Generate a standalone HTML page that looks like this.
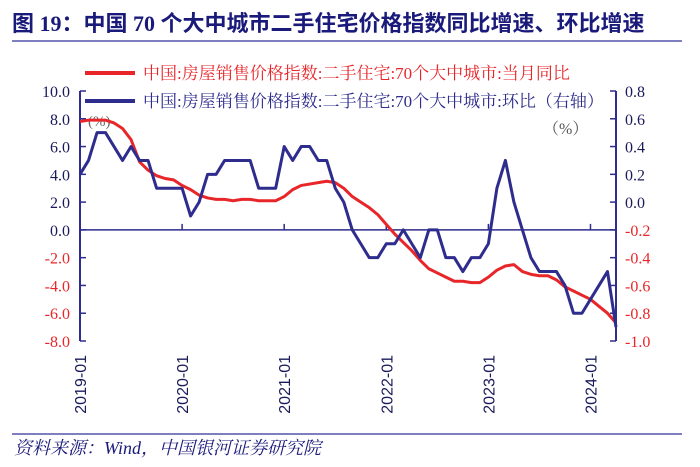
<!DOCTYPE html>
<html><head><meta charset="utf-8"><style>
body{margin:0;background:#fff;}
svg{display:block;font-family:"Liberation Serif","Noto Serif CJK SC",serif;}
</style></head><body>
<svg id="chart" width="700" height="467" viewBox="0 0 700 467">
<text x="12" y="31" font-size="22" font-weight="bold" fill="#1a1a7a" font-family="Liberation Serif, Noto Sans CJK SC, sans-serif">图 19：中国 70 个大中城市二手住宅价格指数同比增速、环比增速</text>
<line x1="12" y1="41" x2="682" y2="41" stroke="#5555aa" stroke-width="1.5"/>
<g>
<line x1="85" y1="73" x2="135" y2="73" stroke="#e8262a" stroke-width="4"/>
<text x="143" y="79" font-size="17" fill="#e8262a">中国:房屋销售价格指数:二手住宅:70个大中城市:当月同比</text>
<line x1="85" y1="101" x2="135" y2="101" stroke="#2e2c8c" stroke-width="4"/>
<text x="143" y="107" font-size="17" fill="#2e2c8c">中国:房屋销售价格指数:二手住宅:70个大中城市:环比（右轴）</text>
</g>
<text x="88" y="126" font-size="15" fill="#666">(%)</text>
<text x="543" y="134" font-size="16" fill="#555">（%）</text>
<g id="axes"></g>
<g id="marks"></g>
<line x1="12" y1="434" x2="682" y2="434" stroke="#5555aa" stroke-width="1.5"/>
<text x="14" y="454" font-size="18" font-style="italic" fill="#1a1a7a">资料来源：Wind，中国银河证券研究院</text>
</svg>
<script>
const yoyValues=[7.8,7.9,7.9,7.9,7.7,7.3,6.5,4.9,4.3,3.9,3.7,3.6,3.2,2.9,2.5,2.3,2.2,2.2,2.1,2.2,2.2,2.1,2.1,2.1,2.4,2.9,3.2,3.3,3.4,3.5,3.4,3.0,2.4,2.0,1.6,1.1,0.4,-0.3,-0.9,-1.5,-2.2,-2.8,-3.1,-3.4,-3.7,-3.7,-3.8,-3.8,-3.4,-2.9,-2.6,-2.5,-3.0,-3.2,-3.3,-3.3,-3.6,-4.1,-4.4,-4.7,-5.0,-5.5,-6.0,-6.7];
const momValues=[0.2,0.3,0.5,0.5,0.4,0.3,0.4,0.3,0.3,0.1,0.1,0.1,0.1,-0.1,0.0,0.2,0.2,0.3,0.3,0.3,0.3,0.1,0.1,0.1,0.4,0.3,0.4,0.4,0.3,0.3,0.1,0.0,-0.2,-0.3,-0.4,-0.4,-0.3,-0.3,-0.2,-0.3,-0.4,-0.2,-0.2,-0.4,-0.4,-0.5,-0.4,-0.4,-0.3,0.1,0.3,0.0,-0.2,-0.4,-0.5,-0.5,-0.5,-0.6,-0.8,-0.8,-0.7,-0.6,-0.5,-0.9];
const leftTicks=[10,8,6,4,2,0,-2,-4,-6,-8];
const rightTicks=[0.8,0.6,0.4,0.2,0,-0.2,-0.4,-0.6,-0.8,-1.0];
const xLabels=["2019-01","2020-01","2021-01","2022-01","2023-01","2024-01"];
const NS="http://www.w3.org/2000/svg";
const X0=80,X1=616,Ytop=91,Ybot=341;
const xMonth=i=>X0+i*(X1-X0)/(momValues.length-1);
const yL=v=>Ytop+(10-v)*(Ybot-Ytop)/18;
const yR=v=>Ytop+(0.8-v)*(Ybot-Ytop)/1.8;
const axes=document.getElementById('axes'),marks=document.getElementById('marks');
function mk(tag,attrs,parent,txt){const e=document.createElementNS(NS,tag);for(const k in attrs)e.setAttribute(k,attrs[k]);if(txt!==undefined)e.textContent=txt;parent.appendChild(e);return e;}
let e;
e=mk('line',{x1:X0,y1:Ytop,x2:X0,y2:Ybot,stroke:'#2e2c8c','stroke-width':2},axes);


e=mk('line',{x1:X1,y1:Ytop,x2:X1,y2:Ybot,stroke:'#2e2c8c','stroke-width':2},axes);


e=mk('line',{x1:X0,y1:yL(0),x2:X1,y2:yL(0),stroke:'#2e2c8c','stroke-width':1.5},axes);


leftTicks.forEach(v=>{
 e=mk('line',{x1:X0,y1:yL(v),x2:X0+6,y2:yL(v),stroke:'#2e2c8c','stroke-width':1.5},axes);
 
 
 e=mk('text',{x:X0-10,y:yL(v)+6,'font-size':16,'text-anchor':'end',fill:v<0?'#e8262a':'#1a1a5a'},axes,v.toFixed(1));
 
 
});
rightTicks.forEach(v=>{
 e=mk('line',{x1:X1-6,y1:yR(v),x2:X1,y2:yR(v),stroke:'#2e2c8c','stroke-width':1.5},axes);
 
 
 e=mk('text',{x:X1+9,y:yR(v)+6,'font-size':16,fill:v<0?'#e8262a':'#1a1a5a'},axes,v.toFixed(1));
 
 
});
xLabels.forEach((s,k)=>{
 const x=xMonth(k*12);
 e=mk('line',{x1:x,y1:yL(0),x2:x,y2:yL(0)-6,stroke:'#2e2c8c','stroke-width':1.5},axes);
 
 
 e=mk('text',{x:0,y:0,'font-size':16,'text-anchor':'end',fill:'#1a1a5a','font-family':'Liberation Sans, sans-serif',transform:`translate(${x+6},355) rotate(-90)`},axes,s);
 
 
});
e=mk('polyline',{points:yoyValues.map((v,i)=>xMonth(i)+','+yL(v)).join(' '),fill:'none',stroke:'#e8262a','stroke-width':3,'stroke-linejoin':'round'},marks);


e=mk('polyline',{points:momValues.map((v,i)=>xMonth(i)+','+yR(v)).join(' '),fill:'none',stroke:'#2e2c8c','stroke-width':3,'stroke-linejoin':'round'},marks);


</script>
</body></html>
